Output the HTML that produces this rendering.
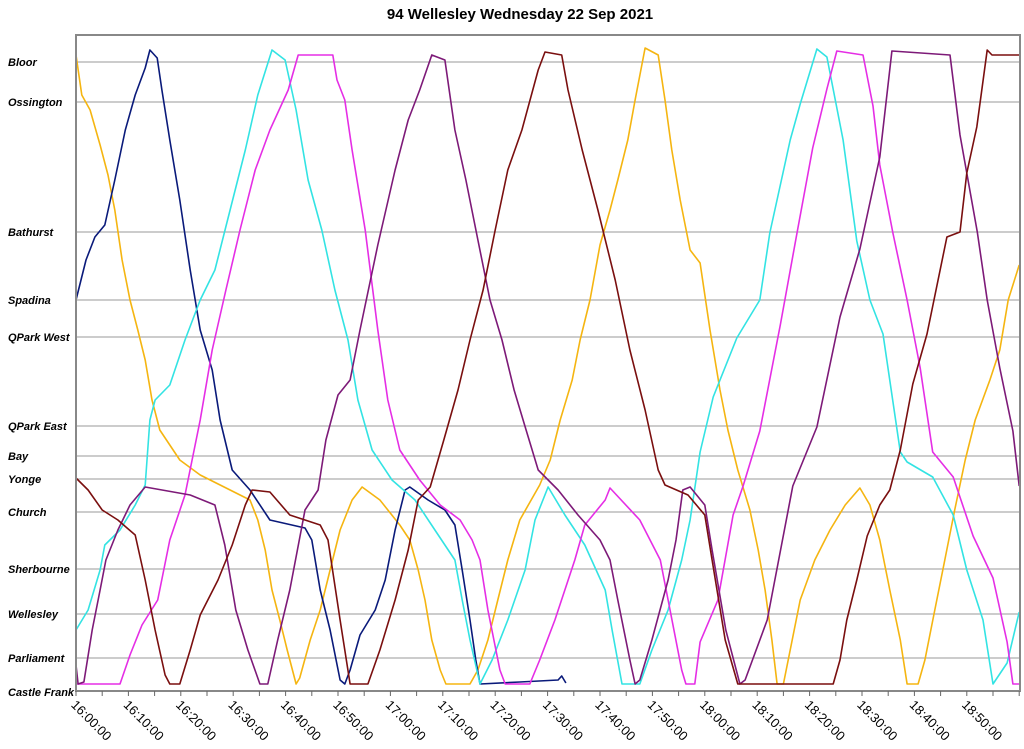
<!DOCTYPE html>
<html><head><meta charset="utf-8"><style>
body{margin:0;background:#fff;width:1024px;height:749px;overflow:hidden}
svg{display:block;font-family:"Liberation Sans",sans-serif}
</style></head><body>
<svg id="chart" width="1024" height="749" xmlns="http://www.w3.org/2000/svg">
<text x="520" y="19" text-anchor="middle" font-size="15" font-weight="bold">94 Wellesley Wednesday 22 Sep 2021</text>
<g id="grid"></g>
<g id="series"></g>
<rect x="76" y="35" width="944" height="656" fill="none" stroke="#888" stroke-width="2"/>
<g id="xaxis"></g>
</svg>
<script>
const stationNames=["Bloor","Ossington","Bathurst","Spadina","QPark West","QPark East","Bay","Yonge","Church","Sherbourne","Wellesley","Parliament","Castle Frank"];
const stationPos=[622,582,452,384,347,258,228,205,172,115,70,26,0];
const tickLabels=["16:00:00","16:10:00","16:20:00","16:30:00","16:40:00","16:50:00","17:00:00","17:10:00","17:20:00","17:30:00","17:40:00","17:50:00","18:00:00","18:10:00","18:20:00","18:30:00","18:40:00","18:50:00"];

const yellowTimes=[0,1.1,2.7,4.6,6.1,7.4,8.8,10.3,11.8,13.2,14.5,16.0,17.9,19.8,23.7,29.4,33.2,34.7,36.1,37.4,38.9,40.3,42.0,42.7,44.7,46.6,48.5,50.4,52.7,54.6,58.0,61.8,63.7,65.3,66.6,67.9,69.5,70.6,75.2,76.7,78.6,80.5,82.4,84.7,88.5,90.5,92.4,94.7,96.2,98.1,100.0,101.9,103.4,105.3,106.7,108.6,111.1,112.4,113.7,115.3,117.2,119.1,121.0,122.9,124.4,126.3,128.6,130.2,131.5,132.8,133.8,135.0,136.3,138.2,141.0,143.9,146.8,149.6,151.5,153.4,155.3,157.3,158.6,160.7,162.0,163.9,165.8,167.7,169.7,171.6,174.4,176.3,177.9,180];
const yellowPos=[629,589,574,539,509,474,424,384,354,324,284,254,239,224,209,194,184,164,134,94,64,34,0,6,44,74,114,154,184,197,184,159,144,114,84,44,14,0,0,14,44,84,124,164,199,224,264,304,344,384,439,474,504,544,584,636,629,584,534,484,434,421,354,294,254,214,174,134,94,44,0,0,34,84,124,154,179,196,179,144,94,44,0,0,24,74,124,174,224,264,304,334,384,419];

const navyTimes=[0,1.9,3.6,5.5,7.4,9.4,11.3,13.2,14.1,15.5,16.4,17.9,19.8,21.8,23.7,26.0,27.5,29.8,33.2,37.0,43.7,45.0,46.6,48.5,50.4,51.3,52.3,54.2,57.1,59.0,60.9,62.8,63.7,67.2,70.4,72.3,73.7,75.2,76.3,77.1,84.7,92.0,92.7,93.5];
const navyPos=[384,424,447,459,504,554,589,616,634,626,594,544,484,414,354,314,264,214,194,164,156,144,94,54,4,0,14,49,74,104,154,194,197,184,174,159,114,64,24,0,2,4,8,1];

const cyanTimes=[0,2.3,4.6,5.5,8.4,11.3,13.2,14.1,15.1,17.9,20.8,23.7,26.5,29.4,32.3,34.7,37.4,39.9,42.0,44.3,46.9,49.4,51.9,53.8,56.5,60.3,64.7,68.5,72.3,73.7,75.2,77.1,79.4,82.4,85.7,87.6,90.1,93.3,97.1,101.0,102.3,104.2,107.6,109.9,113.0,115.6,117.2,119.1,121.6,126.1,130.5,132.4,136.3,138.2,141.4,143.3,146.4,149.0,151.5,154.0,157.3,158.6,163.5,167.4,170.0,173.1,175.0,177.7,180];
const cyanPos=[54,74,114,139,154,179,199,264,284,299,344,384,414,474,534,589,634,624,574,504,454,394,344,284,234,204,184,154,124,84,44,0,24,64,114,164,197,169,139,94,54,0,0,34,74,124,164,232,287,346,384,451,544,580,635,627,544,443,384,350,232,222,207,169,114,64,0,21,72];

const magentaTimes=[0,8.4,10.3,12.6,15.6,17.9,20.8,23.7,26.0,28.6,31.3,34.2,37.0,40.5,42.4,49.0,49.8,51.3,52.7,55.2,57.6,59.5,61.8,65.6,69.5,73.3,75.6,77.1,78.6,80.9,81.9,86.6,88.5,91.4,95.2,97.1,101.0,101.9,107.6,111.5,113.0,115.6,116.4,118.1,119.1,122.5,125.4,127.3,130.5,134.4,137.6,140.6,143.3,145.2,150.2,152.1,153.4,155.9,158.6,161.1,163.5,167.4,171.2,175.0,177.7,178.8,180];
const magentaPos=[0,0,29,59,84,144,189,264,334,394,454,514,554,594,629,629,604,584,534,454,354,284,234,204,179,164,144,124,74,14,0,0,24,64,124,159,184,196,164,124,84,14,0,0,42,84,169,198,253,359,451,536,595,633,629,578,519,451,384,316,232,207,148,106,42,0,0];

const purpleTimes=[0,0.4,1.5,3.1,4.6,5.7,8.0,10.3,13.2,21.8,26.5,28.4,30.5,32.8,35.1,36.6,38.5,40.8,43.7,46.2,47.7,50.0,52.3,54.2,57.6,60.9,63.4,65.6,67.9,70.4,72.3,74.4,76.7,79.0,81.3,83.6,85.9,88.2,92.0,95.8,100.0,101.9,103.4,105.7,106.7,107.6,109.9,113.0,114.5,115.8,117.2,120.0,121.4,124.0,126.7,127.7,131.9,136.8,141.4,145.8,149.6,153.4,155.7,166.8,168.7,172.0,173.9,176.3,178.8,180];
const purplePos=[19,0,2,54,94,124,154,179,197,189,179,139,74,34,0,0,44,94,174,194,244,289,304,354,439,514,564,594,629,624,554,504,444,384,344,294,254,214,194,169,144,124,84,24,0,4,44,104,144,194,197,179,134,54,0,4,64,198,257,367,435,527,633,629,549,452,384,316,253,198];

const maroonTimes=[0,2.3,5.0,8.0,11.3,13.2,15.1,17.0,17.9,19.8,21.8,23.7,27.1,29.8,32.3,33.6,37.0,40.8,46.6,48.1,50.4,52.3,55.7,58.0,60.9,63.4,65.3,67.6,70.2,72.9,75.2,77.7,80.0,82.4,85.1,88.2,89.5,92.7,93.9,96.6,99.6,102.9,105.7,108.6,111.1,112.4,116.8,120.0,121.4,123.9,126.3,144.5,145.8,147.1,149.0,151.0,153.4,155.3,157.3,159.7,162.4,166.2,168.7,170.0,171.9,173.9,174.8,180];
const maroonPos=[206,194,174,164,149,104,54,9,0,0,34,69,104,139,179,194,192,169,159,144,64,0,0,34,84,134,184,197,244,294,344,394,454,514,554,614,632,629,594,534,474,404,334,274,214,199,189,169,124,44,0,0,24,64,104,148,179,194,234,300,350,447,452,511,557,634,629,629];

const X0=76, PXPERMIN=5.24, Y0=684;
function xScale(t){return X0+t*PXPERMIN;}
function yScale(p){return Y0-p;}
const NS="http://www.w3.org/2000/svg";
const svg=document.getElementById('chart');
const grid=document.getElementById('grid');
stationNames.forEach((n,i)=>{
  const y=yScale(stationPos[i]);
  if(stationPos[i]>0){
    const l=document.createElementNS(NS,'line');
    
    
    l.setAttribute('x1',77);l.setAttribute('x2',1019);l.setAttribute('y1',y);l.setAttribute('y2',y);
    l.setAttribute('stroke','#999');l.setAttribute('stroke-width','1');
    grid.appendChild(l);
  }
  const t=document.createElementNS(NS,'text');
  
  
  t.setAttribute('x',8);t.setAttribute('y',(stationPos[i]===0?y+12:y+4));
  t.setAttribute('font-size','11');t.setAttribute('font-weight','bold');t.setAttribute('font-style','italic');
  t.textContent=n;grid.appendChild(t);
});
const xa=document.getElementById('xaxis');
for(let m=0;m<=180;m+=5){
  const x=xScale(m);
  const tk=document.createElementNS(NS,'line');
  
  
  tk.setAttribute('x1',x);tk.setAttribute('x2',x);tk.setAttribute('y1',691);tk.setAttribute('y2',696);
  tk.setAttribute('stroke','#666');xa.appendChild(tk);
}
tickLabels.forEach((lab,i)=>{
  const x=xScale(i*10);
  const t=document.createElementNS(NS,'text');
  
  
  t.setAttribute('x',x);t.setAttribute('y',708);
  t.setAttribute('font-size','13');
  t.setAttribute('transform','rotate(45 '+x+' 700)');
  t.textContent=lab;xa.appendChild(t);
});
const seriesDefs=[
  ['yellow',yellowTimes,yellowPos,'#f5b511'],
  ['navy',navyTimes,navyPos,'#0a1a7a'],
  ['cyan',cyanTimes,cyanPos,'#33e3e3'],
  ['magenta',magentaTimes,magentaPos,'#e52ee5'],
  ['purple',purpleTimes,purplePos,'#7d1a78'],
  ['maroon',maroonTimes,maroonPos,'#7a0f0f']
];
const sg=document.getElementById('series');
seriesDefs.forEach(s=>{
  const pts=s[1].map((t,i)=>xScale(t).toFixed(1)+','+yScale(s[2][i]).toFixed(1)).join(' ');
  const pl=document.createElementNS(NS,'polyline');
  
  
  pl.setAttribute('points',pts);pl.setAttribute('fill','none');
  pl.setAttribute('stroke',s[3]);pl.setAttribute('stroke-width','1.6');
  pl.setAttribute('stroke-linejoin','round');
  sg.appendChild(pl);
});
</script>
</body></html>
